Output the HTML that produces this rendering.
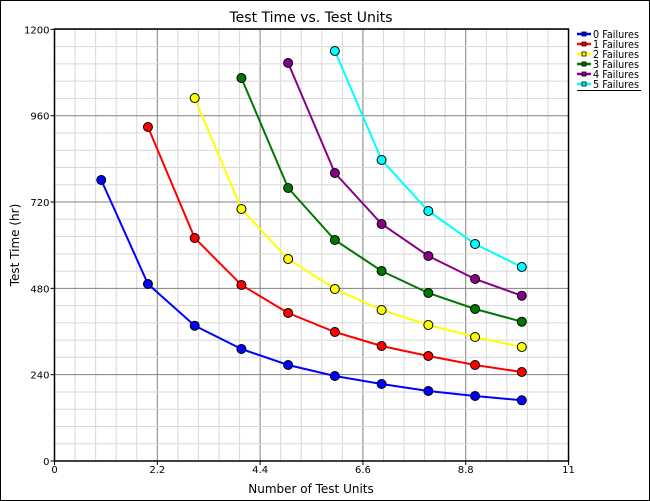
<!DOCTYPE html><html><head><style>body{margin:0;background:#fff}svg{display:block;font-family:"DejaVu Sans","Liberation Sans",sans-serif}</style></head><body>
<svg width="650" height="501" viewBox="0 0 650 501" xmlns="http://www.w3.org/2000/svg">
<rect x="0.5" y="0.5" width="649" height="500" fill="#fff" stroke="#000"/>
<g id="grid"></g>
<text x="311" y="22" font-size="14" text-anchor="middle">Test Time vs. Test Units</text>
<text x="311" y="493" font-size="12" text-anchor="middle">Number of Test Units</text>
<text transform="translate(19,245) rotate(-90)" font-size="12" text-anchor="middle">Test Time  (hr)</text>
<g id="plot"></g>
<g font-size="11" fill="#000">
<g stroke-width="2.5"><line x1="577" y1="34" x2="591" y2="34" stroke="#00f"/><line x1="577" y1="44" x2="591" y2="44" stroke="#f00"/><line x1="577" y1="54" x2="591" y2="54" stroke="#ff0"/><line x1="577" y1="64" x2="591" y2="64" stroke="#070"/><line x1="577" y1="74" x2="591" y2="74" stroke="#808"/><line x1="577" y1="84" x2="591" y2="84" stroke="#0ff"/></g>
<g stroke="#000" stroke-width="0.8"><rect x="582" y="32" width="4" height="4" fill="#00f"/><rect x="582" y="42" width="4" height="4" fill="#f00"/><rect x="582" y="52" width="4" height="4" fill="#ff0"/><rect x="582" y="62" width="4" height="4" fill="#070"/><rect x="582" y="72" width="4" height="4" fill="#808"/><rect x="582" y="82" width="4" height="4" fill="#0ff"/></g>
<g lengthAdjust="spacingAndGlyphs">
<text x="593" y="38" textLength="46" lengthAdjust="spacingAndGlyphs">0 Failures</text><text x="593" y="48" textLength="46" lengthAdjust="spacingAndGlyphs">1 Failures</text><text x="593" y="58" textLength="46" lengthAdjust="spacingAndGlyphs">2 Failures</text><text x="593" y="68" textLength="46" lengthAdjust="spacingAndGlyphs">3 Failures</text><text x="593" y="78" textLength="46" lengthAdjust="spacingAndGlyphs">4 Failures</text><text x="593" y="88" textLength="46" lengthAdjust="spacingAndGlyphs">5 Failures</text></g>
<line x1="577" y1="90.5" x2="641" y2="90.5" stroke="#000"/>
</g>
</svg>
<script>
const NS="http://www.w3.org/2000/svg";
const X0=54.5,XS=46.73,Y0=461,YS=0.3597;
const g=document.getElementById('grid'),p=document.getElementById('plot');
function el(par,t,a){const e=document.createElementNS(NS,t);for(const k in a)e.setAttribute(k,a[k]);par.appendChild(e);return e;}
for(let i=0;i<=25;i++){const x=X0+i*0.44*XS;el(g,'line',{x1:x,y1:29,x2:x,y2:Y0,stroke:i%5?'#d8d8d8':'#808080','stroke-width':1});}
for(let i=0;i<=25;i++){const y=Y0-i*48*YS;el(g,'line',{x1:X0,y1:y,x2:X0+11*XS,y2:y,stroke:i%5?'#d8d8d8':'#808080','stroke-width':1});}
el(g,'rect',{x:X0,y:29,width:11*XS,height:Y0-29,fill:'none',stroke:'#000','stroke-width':1.5});
const xl=['0','2.2','4.4','6.6','8.8','11'];
xl.forEach((t,i)=>{const x=X0+i*2.2*XS;el(g,'line',{x1:x,y1:Y0,x2:x,y2:Y0+4,stroke:'#000'});const e=el(g,'text',{x:x,y:Y0+12,'font-size':'10','text-anchor':'middle'});e.textContent=t;});
[0,240,480,720,960,1200].forEach(v=>{const y=Y0-v*YS;el(g,'line',{x1:X0-4,y1:y,x2:X0,y2:y,stroke:'#000'});const e=el(g,'text',{x:X0-5,y:y+4,'font-size':'10','text-anchor':'end'});e.textContent=v;});
const S=[['#00f',1,[180,284,325.7,349,365,376,384,391,396,400.3]],
['#f00',2,[127,238,285,313,332,346,356,365,372]],
['#ff0',3,[98,209,259,289,310,325,337,347]],
['#070',4,[78,188,240,271,293,309,321.7]],
['#808',5,[63,173,224,256,279,295.7]],
['#0ff',6,[51,160,211,244,267]]];
S.forEach(([c,n0,ys])=>{const pts=ys.map((y,i)=>[X0+(n0+i)*XS,y]);
el(p,'polyline',{points:pts.map(q=>q.join(',')).join(' '),fill:'none',stroke:c,'stroke-width':2});
pts.forEach(q=>el(p,'circle',{cx:q[0],cy:q[1],r:4.5,fill:c,stroke:'#000','stroke-width':1}));});
</script>
</body></html>
